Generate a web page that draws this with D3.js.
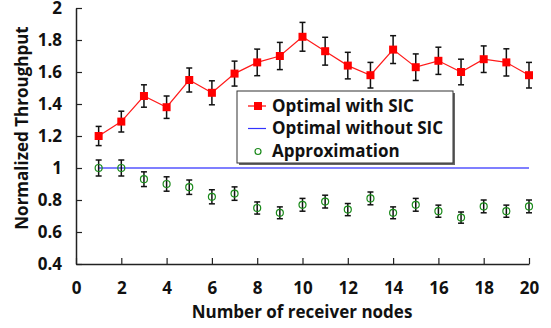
<!DOCTYPE html>
<html>
<head>
<meta charset="UTF-8"/>
<style>
  body { margin: 0; background: #fff; }
  text { font-family: "Open Sans", "Noto Sans", sans-serif; font-weight: bold; fill: #111; }
</style>
</head>
<body>
<script src="https://d3js.org/d3.v7.min.js"></script>
<script>
let nodes = d3.range(1, 21);
let withSIC = [1.20, 1.29, 1.45, 1.38, 1.55, 1.47, 1.59, 1.66, 1.70, 1.82, 1.73, 1.64, 1.58, 1.74, 1.63, 1.67, 1.60, 1.68, 1.66, 1.58];
let withSICErr = [0.06, 0.065, 0.07, 0.07, 0.075, 0.075, 0.078, 0.083, 0.085, 0.09, 0.087, 0.083, 0.08, 0.087, 0.083, 0.085, 0.08, 0.083, 0.085, 0.08];
let withoutSIC = [1, 1, 1, 1, 1, 1, 1, 1, 1, 1, 1, 1, 1, 1, 1, 1, 1, 1, 1, 1];
let approx = [1.00, 1.00, 0.93, 0.90, 0.88, 0.82, 0.84, 0.75, 0.72, 0.77, 0.79, 0.74, 0.81, 0.72, 0.77, 0.73, 0.69, 0.76, 0.73, 0.76];
let approxErr = [0.05, 0.05, 0.046, 0.045, 0.045, 0.044, 0.042, 0.038, 0.037, 0.04, 0.04, 0.038, 0.04, 0.037, 0.04, 0.038, 0.035, 0.04, 0.038, 0.04];
let xTicks = d3.range(0, 21, 2);
let yTicks = [0.4, 0.6, 0.8, 1, 1.2, 1.4, 1.6, 1.8, 2];
let legendNames = ["Optimal with SIC", "Optimal without SIC", "Approximation"];

let width = 551, height = 328;
let svg = d3.select("body").append("svg")
    .attr("width", width).attr("height", height);

let x = d3.scaleLinear().domain([0, 20]).range([76, 529]);
let y = d3.scaleLinear().domain([0.4, 2]).range([264, 8]);

// axes, ticks pointing inward
let xAxis = svg.append("g")
    .attr("transform", "translate(0,264)")
    .call(d3.axisBottom(x).tickValues(xTicks).tickSizeInner(-6).tickSizeOuter(0).tickPadding(14));
let yAxis = svg.append("g")
    .attr("transform", "translate(76,0)")
    .call(d3.axisLeft(y).tickValues(yTicks).tickSizeInner(-6).tickSizeOuter(0).tickPadding(14)
        .tickFormat(d => d3.format("")(+d.toFixed(1))));
[xAxis, yAxis].forEach(g => {
    g.select(".domain").attr("stroke", "#222").attr("stroke-width", 1.5);
    g.selectAll(".tick line").attr("stroke", "#222").attr("stroke-width", 1.2);
    g.selectAll(".tick text").attr("font-size", 17).attr("fill", "#111")
        .attr("font-family", "Open Sans").attr("font-weight", "bold");
});
xAxis.selectAll(".tick text").attr("dy", "0.95em");

svg.append("text").attr("x", 302).attr("y", 318).attr("text-anchor", "middle")
    .attr("font-size", 17).text("Number of receiver nodes");
svg.append("text").attr("transform", "translate(28,128) rotate(-90)")
    .attr("text-anchor", "middle").attr("font-size", 17).text("Normalized Throughput");

// blue line
svg.append("path").datum(withoutSIC)
    .attr("fill", "none").attr("stroke", "#0000ff").attr("stroke-width", 1.2)
    .attr("d", d3.line().x((d, i) => x(nodes[i])).y(d => y(d)));

// red line
svg.append("path").datum(withSIC)
    .attr("fill", "none").attr("stroke", "#ff1a1a").attr("stroke-width", 1.2)
    .attr("d", d3.line().x((d, i) => x(nodes[i])).y(d => y(d)));

function errorBars(vals, errs) {
    let g = svg.append("g").attr("stroke", "#111").attr("stroke-width", 1.5);
    vals.forEach((v, i) => {
        let cx = x(nodes[i]);
        g.append("line").attr("x1", cx).attr("x2", cx).attr("y1", y(v - errs[i])).attr("y2", y(v + errs[i]));
        g.append("line").attr("x1", cx - 3).attr("x2", cx + 3).attr("y1", y(v - errs[i])).attr("y2", y(v - errs[i]));
        g.append("line").attr("x1", cx - 3).attr("x2", cx + 3).attr("y1", y(v + errs[i])).attr("y2", y(v + errs[i]));
    });
}
errorBars(withSIC, withSICErr);
errorBars(approx, approxErr);

svg.append("g").selectAll("rect").data(withSIC).enter().append("rect")
    .attr("x", (d, i) => x(nodes[i]) - 4).attr("y", d => y(d) - 4)
    .attr("width", 8).attr("height", 8).attr("fill", "#ff0000");

svg.append("g").selectAll("circle").data(approx).enter().append("circle")
    .attr("cx", (d, i) => x(nodes[i])).attr("cy", d => y(d)).attr("r", 3.5)
    .attr("fill", "none").attr("stroke", "#1a8a1a").attr("stroke-width", 1.2);

// legend
let lg = svg.append("g");
lg.append("rect").attr("x", 239).attr("y", 93).attr("width", 216).attr("height", 72).attr("fill", "#666");
lg.append("rect").attr("x", 237).attr("y", 91).attr("width", 216).attr("height", 72)
    .attr("fill", "#fff").attr("stroke", "#333").attr("stroke-width", 1);
let rowY = [106, 128.5, 151.5];
lg.append("line").attr("x1", 248).attr("x2", 266).attr("y1", rowY[0]).attr("y2", rowY[0])
    .attr("stroke", "#ff0000").attr("stroke-width", 1.2);
lg.append("rect").attr("x", 254).attr("y", rowY[0] - 4).attr("width", 8).attr("height", 8).attr("fill", "#ff0000");
lg.append("line").attr("x1", 248).attr("x2", 266).attr("y1", rowY[1]).attr("y2", rowY[1])
    .attr("stroke", "#3333ff").attr("stroke-width", 1.2);
lg.append("circle").attr("cx", 258).attr("cy", rowY[2]).attr("r", 3)
    .attr("fill", "none").attr("stroke", "#1a8a1a").attr("stroke-width", 1.2);
lg.selectAll("text.lab").data(legendNames).enter().append("text")
    .attr("x", 272).attr("y", (d, i) => rowY[i]).attr("dy", "0.35em")
    .attr("font-size", 17).text(d => d);
</script>
</body>
</html>
